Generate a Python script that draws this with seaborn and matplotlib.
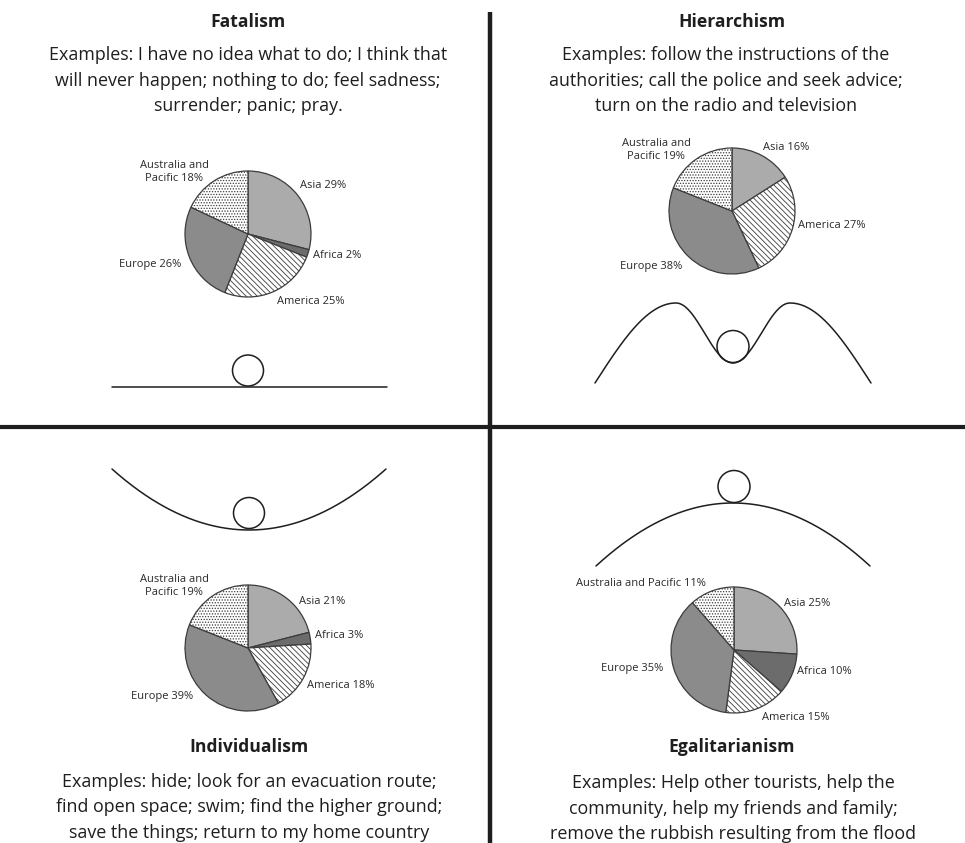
import numpy as np
import matplotlib
matplotlib.use("Agg")
import matplotlib.pyplot as plt
from matplotlib.patches import Circle
import seaborn as sns

# ---- data -------------------------------------------------------------
regions = ["Asia", "Africa", "America", "Europe", "Australia and Pacific"]
fatalism = [29, 2, 25, 26, 18]
hierarchism = [16, 0, 27, 38, 19]
individualism = [21, 3, 18, 39, 19]
egalitarianism = [25, 10, 15, 35, 11]

titles = ["Fatalism", "Hierarchism", "Individualism", "Egalitarianism"]
examples = [
    ["Examples: I have no idea what to do; I think that",
     "will never happen; nothing to do; feel sadness;",
     "surrender; panic; pray."],
    ["Examples: follow the instructions of the",
     "authorities; call the police and seek advice;",
     "turn on the radio and television"],
    ["Examples: hide; look for an evacuation route;",
     "find open space; swim; find the higher ground;",
     "save the things; return to my home country"],
    ["Examples: Help other tourists, help the",
     "community, help my friends and family;",
     "remove the rubbish resulting from the flood"],
]

# ---- style ------------------------------------------------------------
sns.set_theme(style="white")
plt.rcParams["font.family"] = ["Open Sans", "DejaVu Sans"]
plt.rcParams["hatch.linewidth"] = 0.6

INK = "#1e1e1e"
fills = ["#ababab", "#6c6c6c", "white", "#8b8b8b", "white"]
hatches = [None, None, "\\" * 6, None, "." * 6]

W, H = 965, 843
fig = plt.figure(figsize=(W / 100, H / 100), dpi=100)
ax = fig.add_axes([0, 0, 1, 1])


def Y(y):
    """Pixel row (from the top) to axis y."""
    return H - y


def draw_pie(values, cx, cy, r, label_spots):
    keep = [i for i, v in enumerate(values) if v > 0]
    vals = [values[i] for i in keep]
    wedges, _ = ax.pie(vals, center=(cx, Y(cy)), radius=r, startangle=90,
                       counterclock=False, normalize=True,
                       colors=[fills[i] for i in keep],
                       wedgeprops=dict(edgecolor="#3c3c3c", linewidth=0.9))
    for w, i in zip(wedges, keep):
        if hatches[i]:
            w.set_hatch(hatches[i])
    for i in keep:
        name = regions[i]
        x, y, ha, twoline = label_spots[i]
        if twoline:
            first, rest = name.rsplit(" ", 1)
            txt = f"{first}\n{rest} {values[i]}%"
        else:
            txt = f"{name} {values[i]}%"
        ax.text(x, Y(y), txt, ha=ha, va="center", fontsize=8.0,
                color="#2a2a2a", linespacing=1.3)


R = 63
draw_pie(fatalism, 248, 234, R, {
    0: (300, 185, "left", False), 1: (313, 256, "left", False),
    2: (277, 302, "left", False), 3: (119, 265, "left", False),
    4: (174, 172, "center", True)})
draw_pie(hierarchism, 732, 211, R, {
    0: (763, 147, "left", False), 2: (798, 226, "left", False),
    3: (620, 267, "left", False), 4: (656, 150, "center", True)})
draw_pie(individualism, 248, 648, R, {
    0: (299, 601, "left", False), 1: (315, 636, "left", False),
    2: (307, 685, "left", False), 3: (131, 696, "left", False),
    4: (174, 586, "center", True)})
draw_pie(egalitarianism, 734, 650, R, {
    0: (784, 603, "left", False), 1: (797, 672, "left", False),
    2: (762, 717, "left", False), 3: (601, 669, "left", False),
    4: (576, 584, "left", False)})

# ---- headings and example text ----------------------------------------
heads = [(248, 22, 55), (732, 22, 55), (249, 747, 782), (732, 747, 783)]
text_x = [248, 726, 249, 733]
for k, (hx, hy, ty) in enumerate(heads):
    ax.text(hx, Y(hy), titles[k], ha="center", va="center", fontsize=12.6,
            fontweight="bold", color=INK)
    for j, line in enumerate(examples[k]):
        ax.text(text_x[k], Y(ty + 25.5 * j), line, ha="center", va="center",
                fontsize=12.9, color=INK)

# ---- quadrant dividers -------------------------------------------------
ax.plot([490, 490], [Y(12), Y(843)], color=INK, lw=3.2, solid_capstyle="butt")
ax.plot([0, W], [Y(427), Y(427)], color=INK, lw=3.0, solid_capstyle="butt")

# ---- ball-and-landscape sketches --------------------------------------
lk = dict(color=INK, lw=1.1)


def ball(cx, cy, r):
    ax.add_patch(Circle((cx, Y(cy)), r, fill=False, edgecolor=INK, lw=1.1))


# flat ground
ax.plot([112, 387], [Y(387), Y(387)], **lk)
ball(248, 370.5, 15.5)

# valley between two hills
u = np.linspace(-138, 138, 600)
a = np.abs(u)
peak_u, peak_h, valley_h = 57, 80, 20
inner = valley_h + (peak_h - valley_h) * (1 - np.cos(np.pi * a / peak_u)) / 2
outer = peak_h * np.cos(np.pi / 2 * (a - peak_u) / (138 - peak_u))
hh = np.where(a <= peak_u, inner, outer)
ax.plot(733 + u, Y(383 - hh), **lk)
ball(733, 346.5, 16)

# bowl
u = np.linspace(-137, 137, 400)
ax.plot(249 + u, Y(530 - 61 * (u / 137) ** 2), **lk)
ball(249, 513, 15.5)

# arch
ax.plot(733 + u, Y(503 + 63 * (u / 137) ** 2), **lk)
ball(734, 486.5, 16)

ax.set_xlim(0, W)
ax.set_ylim(0, H)
ax.set_aspect("auto")
ax.axis("off")

fig.savefig("out.png", dpi=100, facecolor="white")
